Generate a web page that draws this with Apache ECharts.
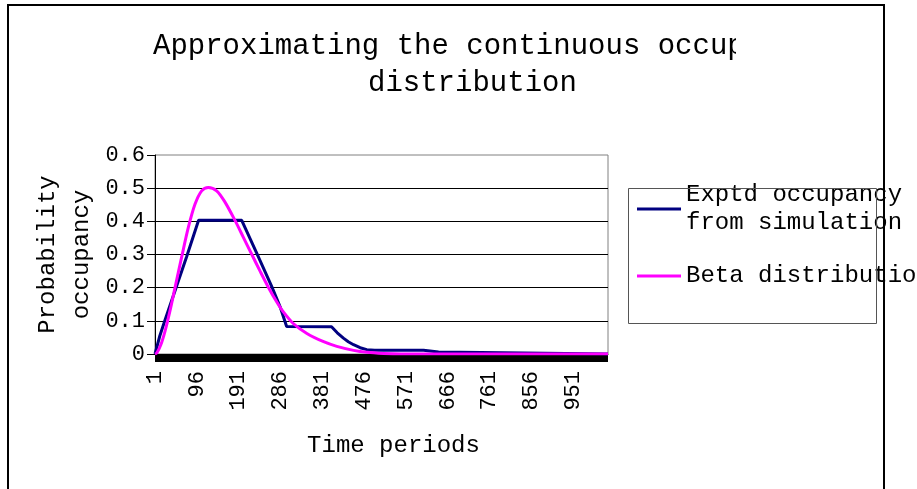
<!DOCTYPE html>
<html>
<head>
<meta charset="utf-8">
<script src="https://cdn.jsdelivr.net/npm/echarts@6/dist/echarts.min.js"></script>
<style>
  html, body { margin: 0; padding: 0; background: #fff; }
  #chart { width: 917px; height: 489px; }
</style>
</head>
<body>
<div id="chart"></div>
<script>
// time periods on the category axis
var periodCount = 1030
var categories = []
for (var i = 1; i <= periodCount; i++) categories.push(String(i))

// values (period, probability)
var simX = [1, 12, 24, 50, 73, 100, 198, 232, 266, 285, 300, 402, 415, 429, 440, 452, 467, 482, 500, 611, 612, 645, 646, 1030]
var simY = [0, 0.055, 0.103, 0.204, 0.294, 0.403, 0.403, 0.304, 0.204, 0.143, 0.083, 0.082, 0.064, 0.048, 0.037, 0.028, 0.019, 0.013, 0.011, 0.011, 0.006, 0.006, 0, 0]

var betaX = [1, 5, 14, 24, 35, 46, 62, 77, 92, 107, 122, 141, 160, 183, 202, 221, 240, 259, 278, 293, 315, 346, 384, 414, 452, 482, 520, 560, 620, 1030]
var betaY = [0, 0.003, 0.027, 0.07, 0.13, 0.197, 0.295, 0.383, 0.452, 0.492, 0.502, 0.492, 0.458, 0.402, 0.351, 0.3, 0.249, 0.2, 0.156, 0.126, 0.092, 0.062, 0.037, 0.023, 0.011, 0.005, 0.0015, 0, 0, 0]

function pairs (xs, ys) {
  return xs.map(function (x, k) { return [String(x), ys[k]] })
}

var font = 'Liberation Mono'
var chart = echarts.init(document.getElementById('chart'))

chart.setOption({
  animation: false,
  textStyle: { fontFamily: font, color: '#000' },
  title: [
    { text: 'Approximating the continuous occupancy', left: 148, top: 24,
      textStyle: { fontFamily: font, fontSize: 29, fontWeight: 'normal', color: '#000', lineHeight: 34 } },
    { text: 'distribution', left: 363, top: 61,
      textStyle: { fontFamily: font, fontSize: 29, fontWeight: 'normal', color: '#000', lineHeight: 34 } }
  ],
  legend: [
    {
      left: 637, top: 167, padding: 0, itemWidth: 44, itemHeight: 3, icon: 'rect',
      data: [{ name: 'Exptd occupancy from simulation', textStyle: { padding: [28, 0, 0, 0] } }],
      formatter: function () { return 'Exptd occupancy\nfrom simulation' },
      textStyle: { fontFamily: font, fontSize: 24, color: '#000', lineHeight: 28 }
    },
    {
      left: 637, top: 262, padding: 0, itemWidth: 44, itemHeight: 3, icon: 'rect',
      data: ['Beta distribution'],
      textStyle: { fontFamily: font, fontSize: 24, color: '#000', lineHeight: 28 }
    }
  ],
  grid: { left: 155, right: 309, top: 155, bottom: 135, show: true, borderColor: '#808080', borderWidth: 1 },
  xAxis: {
    type: 'category',
    data: categories,
    boundaryGap: false,
    name: 'Time periods',
    nameLocation: 'middle',
    nameGap: 80,
    nameTextStyle: { fontFamily: font, fontSize: 24, color: '#000', padding: [0, 0, 0, 24] },
    axisLine: { lineStyle: { color: '#000', width: 1 } },
    axisTick: { interval: 1, length: 8, lineStyle: { color: '#000' } },
    axisLabel: { interval: 94, rotate: 90, margin: 17, fontFamily: font, fontSize: 22, color: '#000' },
    splitLine: { show: false }
  },
  yAxis: {
    type: 'value',
    min: 0,
    max: 0.6,
    interval: 0.1,
    name: 'Probability\noccupancy',
    nameLocation: 'middle',
    nameRotate: 90,
    nameGap: 56,
    nameTextStyle: { fontFamily: font, fontSize: 24, color: '#000', lineHeight: 34 },
    axisLine: { show: true, lineStyle: { color: '#000', width: 1 } },
    axisTick: { show: true, length: 8, lineStyle: { color: '#000' } },
    axisLabel: { margin: 10, fontFamily: font, fontSize: 22, color: '#000' },
    splitLine: { show: true, showMaxLine: false, lineStyle: { color: '#000', width: 1 } }
  },
  series: [
    {
      name: 'Exptd occupancy from simulation',
      type: 'line',
      symbol: 'none',
      color: '#000080',
      lineStyle: { color: '#000080', width: 3 },
      data: pairs(simX, simY)
    },
    {
      name: 'Beta distribution',
      type: 'line',
      symbol: 'none',
      smooth: 0.3,
      color: '#FF00FF',
      lineStyle: { color: '#FF00FF', width: 3 },
      data: pairs(betaX, betaY)
    }
  ],
  graphic: [
    { type: 'rect', z: 50, silent: true, shape: { x: 628.5, y: 188.5, width: 248, height: 135 },
      style: { fill: 'none', stroke: '#555', lineWidth: 1 } },
    { type: 'rect', z: 90, silent: true, shape: { x: 736, y: 18, width: 90, height: 45 },
      style: { fill: '#fff' } },
    { type: 'rect', z: 100, silent: true, shape: { x: 8, y: 5, width: 876, height: 520 },
      style: { fill: 'none', stroke: '#000', lineWidth: 2 } }
  ]
})
</script>
</body>
</html>
